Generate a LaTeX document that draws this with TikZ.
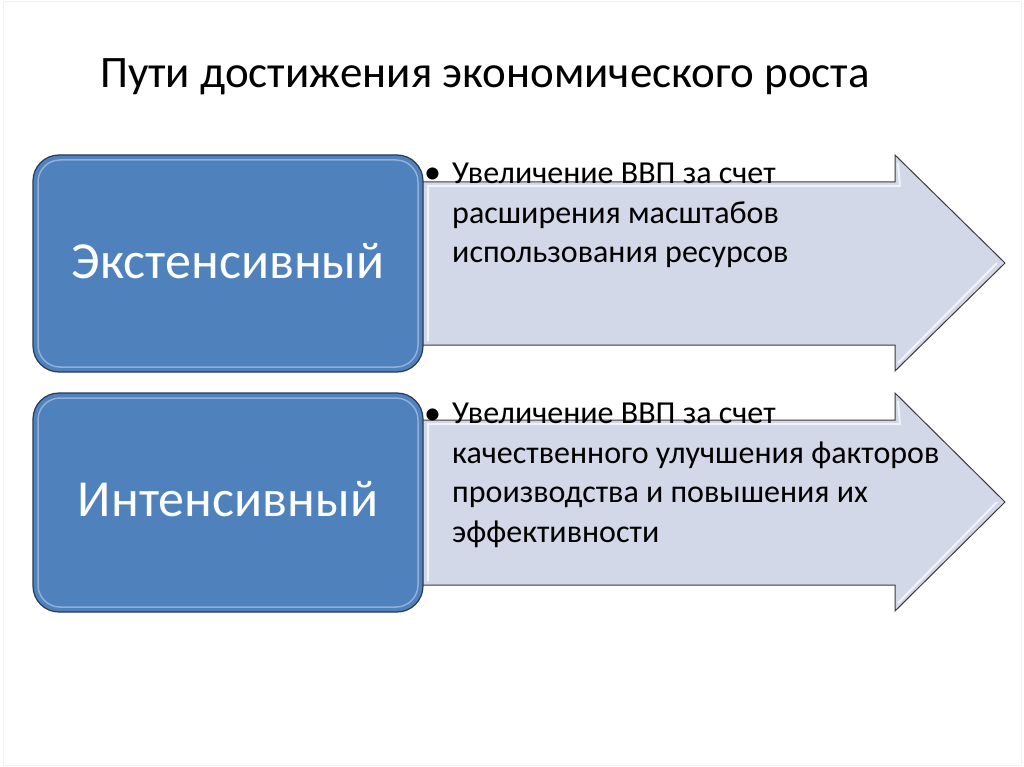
\documentclass[tikz,border=0pt]{standalone}
\usepackage{fontspec}
\setmainfont{Carlito}
\definecolor{boxblue}{HTML}{4F81BD}
\definecolor{boxedge}{HTML}{2B3A4F}
\definecolor{boxlight}{HTML}{8FB0DA}
\definecolor{arrowfill}{HTML}{D2D8E8}
\definecolor{arrowedge}{HTML}{3A3A3A}
\begin{document}
\begin{tikzpicture}[x=1pt,y=-1pt,
  arrowshape/.style={fill=arrowfill, draw=arrowedge, line width=1pt, line join=miter},
  bevel/.style={draw=white, line width=2pt, opacity=0.7},
  bluebox/.style={fill=boxblue, draw=boxedge, line width=1.2pt, rounded corners=26pt},
  boxhl/.style={draw=boxlight, line width=1.5pt, rounded corners=22pt},
  boxtext/.style={anchor=base, inner sep=0pt, text=white, font=\fontsize{52}{60}\selectfont},
  bulletdot/.style={anchor=base west, inner sep=0pt, font=\fontsize{34}{40}\selectfont},
  bullettext/.style={anchor=north west, inner sep=0pt, align=left, font=\fontsize{32}{39.5}\selectfont},
  title/.style={anchor=base west, inner sep=0pt, font=\fontsize{45}{52}\selectfont}
]
\useasboundingbox (0,0) rectangle (1024,767);
\fill[white] (0,0) rectangle (1024,767);
\draw[gray!10, line width=0.8pt] (3,1) rectangle (1021,765);

% title
\node[title] (title) at (100,88) {Пути достижения экономического роста};

% arrow 1
\draw[arrowshape] (410,182) -- (895,182) -- (895,155) -- (1005,263) -- (895,371) -- (895,345) -- (410,345) -- cycle;
\draw[bevel] (898,163) -- (900,186) -- (428,186) -- (428,341);
\draw[bevel] (898,363) -- (997,263);
% arrow 2
\draw[arrowshape] (410,420) -- (895,420) -- (895,393) -- (1005,502) -- (895,611) -- (895,585) -- (410,585) -- cycle;
\draw[bevel] (898,401) -- (900,424) -- (428,424) -- (428,581);
\draw[bevel] (898,603) -- (997,502);

% boxes
\draw[bluebox] (33,155) rectangle (423,372);
\draw[boxhl] (38,160) rectangle (418,367);
\node[boxtext] (ext) at (228,278) {Экстенсивный};

\draw[bluebox] (33,393) rectangle (423,612);
\draw[boxhl] (38,398) rectangle (418,607);
\node[boxtext] (int) at (228,516) {Интенсивный};

% bullet texts
\node[bulletdot] (b1) at (424,184) {•};
\node[bullettext] (t1) at (452,163) {Увеличение ВВП за счет\\расширения масштабов\\использования ресурсов};
\node[bulletdot] (b2) at (424,424) {•};
\node[bullettext] (t2) at (452,403) {Увеличение ВВП за счет\\качественного улучшения факторов\\производства и повышения их\\эффективности};
\end{tikzpicture}
\end{document}
